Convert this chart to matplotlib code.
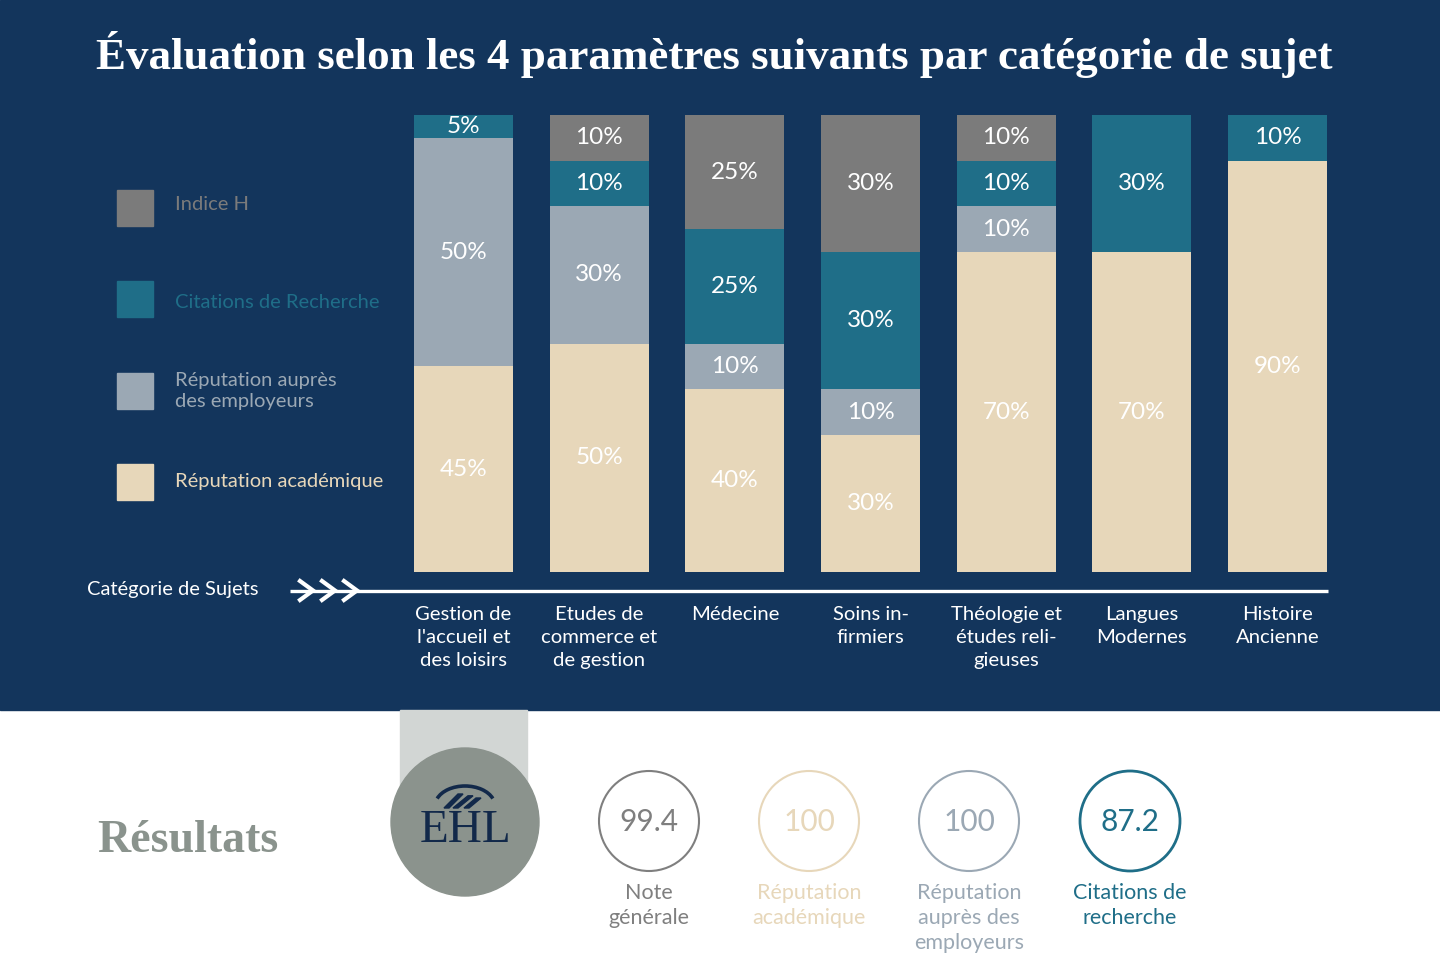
import numpy as np
import matplotlib
matplotlib.use("Agg")
import matplotlib.pyplot as plt
from matplotlib.patches import Rectangle, Circle, Arc, Polygon


# ------------ data -----------------------------------------------------
categories = [
    "Gestion de\nl'accueil et\ndes loisirs",
    "Etudes de\ncommerce et\nde gestion",
    "Médecine",
    "Soins in-\nfirmiers",
    "Théologie et\nétudes reli-\ngieuses",
    "Langues\nModernes",
    "Histoire\nAncienne",
]
academique = [45, 50, 40, 30, 70, 70, 90]
employeurs = [50, 30, 10, 10, 10, 0, 0]
citations = [5, 10, 25, 30, 10, 30, 10]
indice_h = [0, 10, 25, 30, 10, 0, 0]

series_names = ["Indice H", "Citations de Recherche",
                "Réputation auprès\ndes employeurs", "Réputation académique"]

result_values = ["99.4", "100", "100", "87.2"]
result_labels = ["Note\ngénérale", "Réputation\nacadémique",
                 "Réputation\nauprès des\nemployeurs", "Citations de\nrecherche"]

# ------------ style ----------------------------------------------------
NAVY = "#13355c"
C_H = "#7b7b7b"
C_CIT = "#1f6e88"
C_EMP = "#9ba8b4"
C_ACA = "#e7d7ba"
SANS = ["Lato", "DejaVu Sans"]
SERIF = ["Liberation Serif", "DejaVu Serif"]

W, H = 1440, 960
fig = plt.figure(figsize=(W / 100, H / 100), dpi=100, facecolor="white")

# overlay axes in pixel coordinates
ov = fig.add_axes([0, 0, 1, 1], zorder=0)
ov.set_xlim(0, W)
ov.set_ylim(H, 0)
ov.axis("off")

ov.add_patch(Rectangle((0, 0), W, 710, color=NAVY, zorder=0))

ov.text(714, 55, "Évaluation selon les 4 paramètres suivants par catégorie de sujet",
        color="white", fontsize=32.4, fontweight="bold", family=SERIF,
        ha="center", va="center")

# legend
leg_colors = [C_H, C_CIT, C_EMP, C_ACA]
box_y = [208, 299, 391, 482]
text_y = [204, 302, 391, 481]
for name, col, by, ty in zip(series_names, leg_colors, box_y, text_y):
    ov.add_patch(Rectangle((117, by - 18), 36, 36, color=col, zorder=1))
    ov.text(175, ty, name, color=col, fontsize=14.5, family=SANS,
            ha="left", va="center", linespacing=1.3)

# axis line with chevrons
ov.plot([290, 1328], [590.5, 590.5], color="white", lw=2.4, solid_capstyle="butt", zorder=3)
for tip in [313, 335, 357]:
    ov.plot([tip - 13, tip, tip - 13], [581, 590.5, 600], color="white", lw=3,
            solid_joinstyle="miter", zorder=3)
ov.text(87, 589, "Catégorie de Sujets", color="white", fontsize=14.5, family=SANS,
        ha="left", va="center")

# ------------ stacked bars --------------------------------------------
ax = fig.add_axes([395.7 / W, (H - 572) / H, 949.7 / W, 457 / H], zorder=2)
ax.patch.set_alpha(0)
x = np.arange(len(categories))
bw = 0.73
layers = [(academique, C_ACA), (employeurs, C_EMP), (citations, C_CIT), (indice_h, C_H)]
bottom = np.zeros(len(categories))
for vals, col in layers:
    vals = np.array(vals, dtype=float)
    ax.bar(x, vals, bw, bottom=bottom, color=col, linewidth=0)
    for xi, v, b in zip(x, vals, bottom):
        if v > 0:
            ax.text(xi, b + v / 2, f"{int(v)}%", color="white", fontsize=17.5,
                    family=SANS, ha="center", va="center")
    bottom += vals
ax.set_xlim(-0.5, len(categories) - 0.5)
ax.set_ylim(0, 100)
ax.axis("off")

# category labels
for xi, cat in zip(x, categories):
    ax.annotate(cat, xy=(xi, 0), xycoords="data", xytext=(0, -34),
                textcoords="offset pixels", color="white", fontsize=14.6,
                family=SANS, ha="center", va="top", linespacing=1.42)

# ------------ results section -----------------------------------------
ov.text(97, 841, "Résultats", color="#8a938d", fontsize=33, fontweight="bold",
        family=SERIF, ha="left", va="center")

ov.add_patch(Rectangle((400, 710), 127, 95, color="#d2d6d4", zorder=1))
ov.add_patch(Circle((465, 822), 74, color="#8b938d", zorder=2))
logo = "#12294a"
ov.add_patch(Arc((465, 806), 60, 40, theta1=195, theta2=345, color=logo, lw=2.6, zorder=3))
for x0, x1, y0 in [(444, 458, 808), (453, 468, 808), (464, 476, 808)]:
    ov.add_patch(Polygon([(x0, y0), (x0 + 5, y0), (x1 + 5, y0 - 14 + (x0 - 444) * 0.2),
                          (x1, y0 - 14 + (x0 - 444) * 0.2)], closed=True,
                         color=logo, zorder=3))
ov.text(466, 831, "EHL", color=logo, fontsize=34, family=SERIF, ha="center",
        va="center", zorder=4)

ring_x = [649, 809, 969, 1130]
ring_cols = ["#7f7f7f", C_ACA, C_EMP, C_CIT]
ring_lw = [1.5, 1.5, 1.5, 2.0]
for rx, col, lw, val, lab in zip(ring_x, ring_cols, ring_lw, result_values, result_labels):
    ov.add_patch(Circle((rx, 821), 50, fill=False, edgecolor=col, lw=lw, zorder=2))
    ov.text(rx, 822, val, color=col, fontsize=21.5, family=SANS, ha="center",
            va="center", zorder=3)
    ov.text(rx, 883, lab, color=col, fontsize=15.5, family=SANS, ha="center",
            va="top", linespacing=1.3, zorder=3)

fig.savefig("out.png", dpi=100, facecolor="white")
